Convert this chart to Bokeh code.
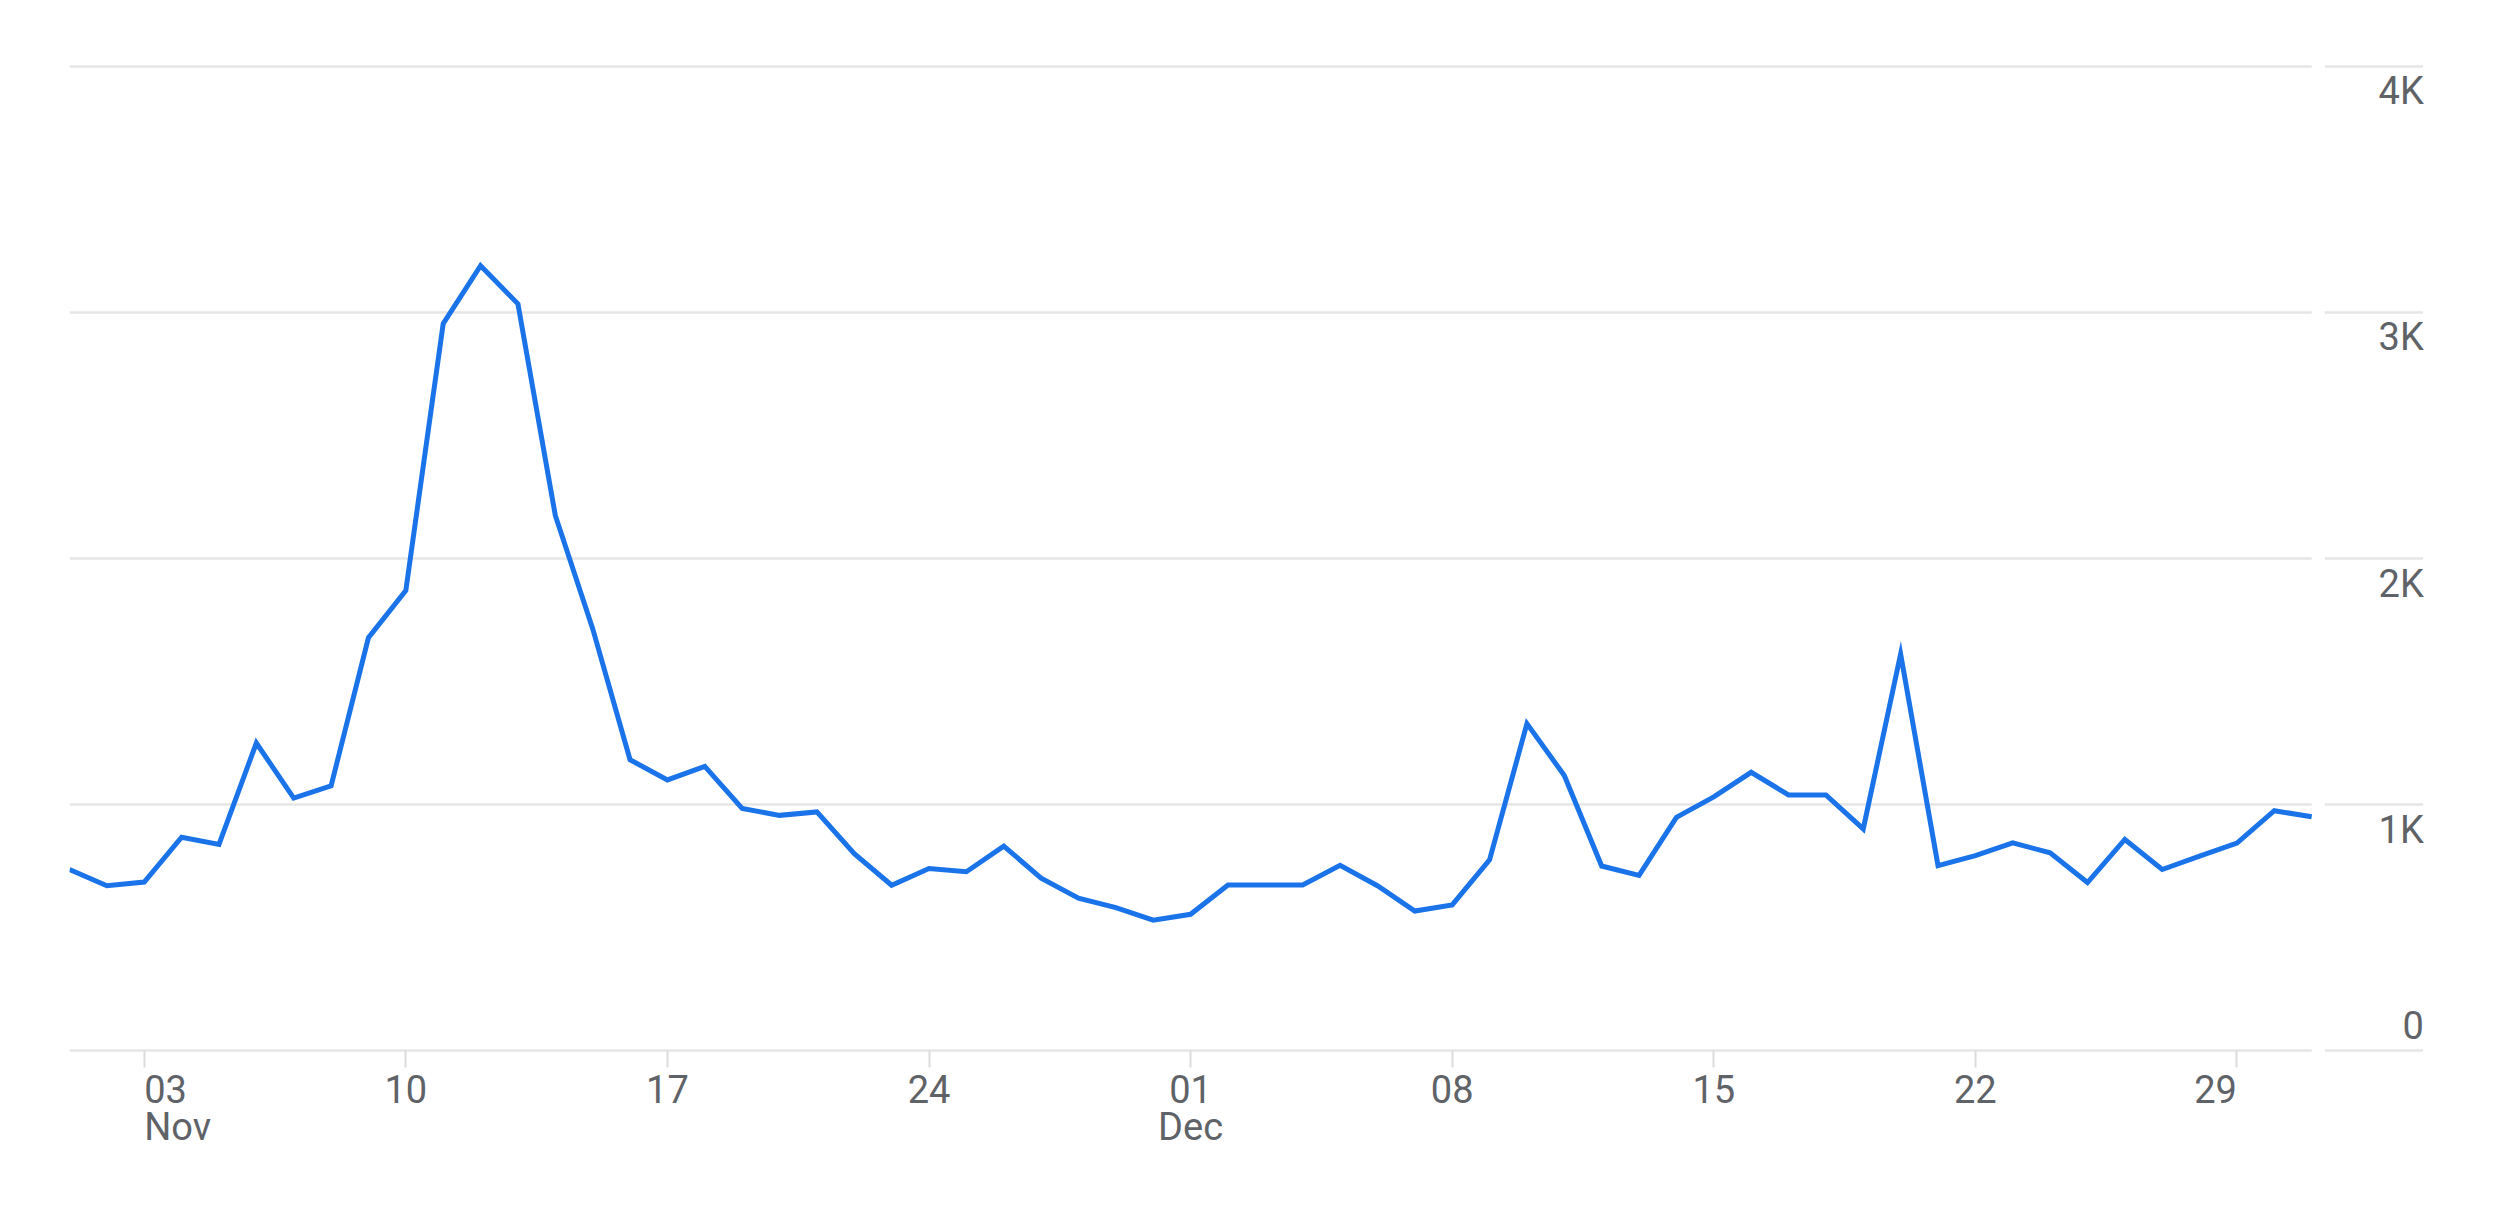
import pandas as pd
from bokeh.plotting import figure
from bokeh.models import Range1d, FixedTicker, CustomJSTickFormatter, Label
from bokeh.embed import file_html
from bokeh.resources import INLINE

# ---- data ----
start_date = "2024-11-01"
values = [
    736, 670, 685, 867, 838, 1250, 1026, 1076, 1678, 1870,
    2955, 3190, 3035, 2175, 1715, 1182, 1100, 1155, 984, 956,
    970, 800, 672, 740, 727, 831, 701, 619, 581, 530,
    554, 673, 673, 673, 753, 670, 567, 592, 775, 1329,
    1118, 750, 712, 948, 1031, 1131, 1039, 1039, 901, 1612,
    752, 792, 844, 804, 683, 858, 736, 790, 843, 975, 950,
]
tick_dates = ["2024-11-03", "2024-11-10", "2024-11-17", "2024-11-24",
              "2024-12-01", "2024-12-08", "2024-12-15", "2024-12-22", "2024-12-29"]
tick_day_labels = ["03", "10", "17", "24", "01", "08", "15", "22", "29"]
month_dates = ["2024-11-03", "2024-12-01"]
month_labels = ["Nov", "Dec"]
y_ticks = [0, 1000, 2000, 3000, 4000]
y_tick_labels = ["0", "1K", "2K", "3K", "4K"]

dates = pd.date_range(start_date, periods=len(values), freq="D")
DAY = 86400000.0

def ms(d):
    return pd.Timestamp(d).value / 1e6

LINE = "#1a73e8"
GRID = "#e6e6e6"
TEXT = "#5f6368"
FONT = "Roboto"
FS = "38px"

x0 = ms(dates[0])
x1 = ms(dates[-1])

p = figure(
    frame_width=2373, frame_height=1115,
    x_axis_type="datetime", y_axis_location=None,
    output_backend="svg", toolbar_location=None,
    x_range=Range1d(x0, x1 + 3.5 * DAY),
    y_range=Range1d(-520, 4012),
    min_border_left=69, min_border_right=10,
    min_border_top=63, min_border_bottom=0,
)
p.outline_line_color = None
p.background_fill_color = "white"
p.border_fill_color = "white"
p.xgrid.visible = False
p.ygrid.visible = False

# horizontal grid lines over the data span, plus short extensions in the label area
n_y = len(y_ticks)
p.segment(x0=[x0] * n_y, y0=y_ticks, x1=[x1] * n_y, y1=y_ticks,
          line_color=GRID, line_width=2.5)
p.segment(x0=[x1 + 0.35 * DAY] * n_y, y0=y_ticks, x1=[x1 + 2.98 * DAY] * n_y, y1=y_ticks,
          line_color=GRID, line_width=2.5)

# x axis on the zero line: tick marks only
xa = p.xaxis[0]
xa.fixed_location = 0
xa.ticker = FixedTicker(ticks=[ms(d) for d in tick_dates])
xa.formatter = CustomJSTickFormatter(code="return ''")
xa.axis_line_color = None
xa.major_tick_in = 0
xa.major_tick_out = 17
xa.major_tick_line_color = "#dcdcdc"
xa.major_tick_line_width = 2
xa.minor_tick_line_color = None

# the series
p.line(x=dates, y=values, line_color=LINE, line_width=5, line_join="miter")

# x tick labels
n = len(tick_dates)
for i, (d, t) in enumerate(zip(tick_dates, tick_day_labels)):
    align = "left" if i == 0 else ("right" if i == n - 1 else "center")
    p.add_layout(Label(x=ms(d), y=0, text=t, y_offset=-38,
                       text_align=align, text_baseline="alphabetic",
                       text_font=FONT, text_font_size=FS, text_color=TEXT))
for d, t in zip(month_dates, month_labels):
    align = "left" if d == tick_dates[0] else "center"
    p.add_layout(Label(x=ms(d), y=0, text=t, y_offset=-76,
                       text_align=align, text_baseline="alphabetic",
                       text_font=FONT, text_font_size=FS, text_color=TEXT))

# right y labels
label_x = x1 + 3 * DAY
for v, t in zip(y_ticks, y_tick_labels):
    off = 26 if v == 0 else -25
    p.add_layout(Label(x=label_x, y=v, text=t, y_offset=off,
                       text_align="right", text_baseline="alphabetic",
                       text_font=FONT, text_font_size=FS, text_color=TEXT))

open("out.html", "w").write(file_html(p, INLINE))
